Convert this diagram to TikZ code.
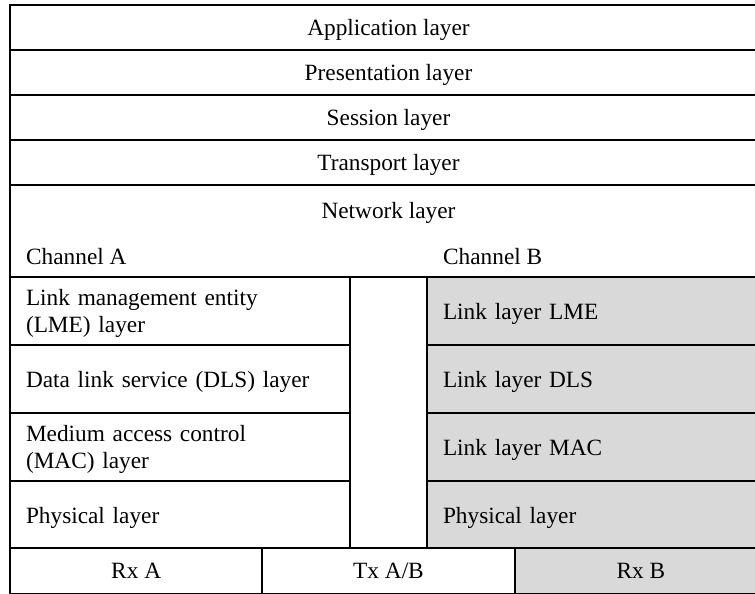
\documentclass[tikz,border=0pt]{standalone}
\usepackage{fontspec}
\setmainfont{Liberation Serif}
\begin{document}
\begin{tikzpicture}[x=1pt, y=-1pt,
  every node/.style={font=\fontsize{23.3}{26.5}\selectfont},
  cell/.style={draw, line width=2.3pt, outer sep=0pt, anchor=north west,
    text depth=0pt},
  twoline/.style={text depth=26.5pt},
  oneline/.style={text depth=0pt},
  wide/.style={cell, minimum width=757pt, minimum height=45pt, inner sep=0pt},
  side/.style={cell, text width=308pt, inner xsep=16pt, inner ysep=0pt,
    minimum height=68pt, align=left},
  foot/.style={cell, minimum width=252.33pt, minimum height=46pt, inner sep=0pt}]
  \useasboundingbox (0, 0) rectangle (755, 594);
  \fill[white] (0, 0) rectangle (755, 594);

  % upper layers
  \foreach \name/\txt [count=\i] in
    {app/Application layer, pres/Presentation layer,
     sess/Session layer, trans/Transport layer}
    \node[wide] (\name) at (10, {5 + 45*(\i - 1)}) {\txt};

  % network layer with both channels
  \node[wide, minimum height=92pt] (net) at (10, 185) {};
  \node[anchor=base, inner sep=0pt] (nettxt) at (388.5, 218) {Network layer};
  \node[anchor=base west, inner sep=0pt] (chA) at (26, 264) {Channel A};
  \node[anchor=base west, inner sep=0pt] (chB) at (443, 264) {Channel B};

  % channel A stack
  \foreach \name/\txt/\kind/\top in
    {lmeA/{Link management entity\\(LME) layer}/twoline/277,
     dlsA/{Data link service (DLS) layer}/oneline/345,
     macA/{Medium access control\\(MAC) layer}/twoline/413,
     phyA/{Physical layer}/oneline/481}
    \node[side, \kind] (\name) at (10, \top) {\txt};

  % gap between the stacks
  \node[cell, minimum width=77pt, minimum height=271pt, inner sep=0pt]
    (gap) at (350, 277) {};

  % channel B stack
  \foreach \name/\txt/\top in
    {lmeB/Link layer LME/277, dlsB/Link layer DLS/345,
     macB/Link layer MAC/413, phyB/Physical layer/481}
    \node[side, fill=black!15] (\name) at (427, \top) {\txt};

  % transceivers
  \foreach \name/\txt/\col [count=\i] in
    {rxA/Rx A/white, tx/{Tx A/B}/white, rxB/Rx B/black!15}
    \node[foot, fill=\col] (\name) at ({10 + 252.33*(\i - 1)}, 548) {\txt};
\end{tikzpicture}
\end{document}
